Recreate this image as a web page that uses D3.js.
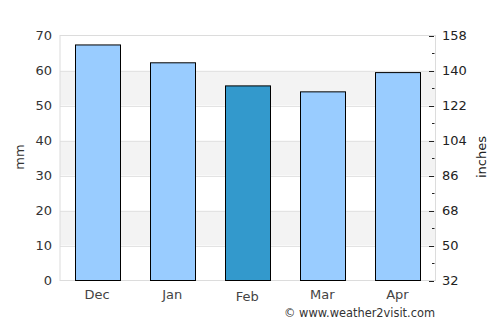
<!DOCTYPE html>
<html><head><meta charset="utf-8">
<script src="https://cdn.jsdelivr.net/npm/d3@7"></script>
<style>body{margin:0;background:#fff}svg{display:block;font-family:"DejaVu Sans",sans-serif}</style>
</head><body><svg id="c" width="500" height="325"></svg>
<script>
const months = ["Dec","Jan","Feb","Mar","Apr"];
const rainfall = [67.3, 62.2, 55.6, 53.9, 59.4];
const highlight = ["Feb"];
const leftTicks = [0,10,20,30,40,50,60,70];
const rightTicks = [32,50,68,86,104,122,140,158];

const svg = d3.select("#c");
const L=60, R=435.5, T=35.5, B=280.5;
const x = d3.scaleBand().domain(months).range([L,R]).paddingInner(0.4).paddingOuter(0.2);
const y = d3.scaleLinear().domain([0,70]).range([B,T]);
const y2 = d3.scaleLinear().domain([32,158]).range([B,T]);

// bands
for (let i=0;i<leftTicks.length-1;i++){
  if (i%2===1){
    svg.append("rect").attr("x",L).attr("width",R-L)
      .attr("y",y(leftTicks[i+1])).attr("height",y(leftTicks[i])-y(leftTicks[i+1]))
      .attr("fill","#f3f3f3");
  }
}
// grid
svg.append("g").selectAll("line").data(leftTicks.slice(1,-1)).join("line")
  .attr("x1",L).attr("x2",R).attr("y1",d=>Math.round(y(d))+0.5).attr("y2",d=>Math.round(y(d))+0.5)
  .attr("stroke","#e3e3e3");
// border
svg.append("rect").attr("x",L).attr("y",T).attr("width",R-L).attr("height",B-T)
  .attr("fill","none").attr("stroke","#dcdcdc");

// bars
svg.append("g").selectAll("rect").data(months).join("rect")
  .attr("x",d=>Math.round(x(d))+0.5).attr("width",Math.round(x.bandwidth()))
  .attr("y",(d,i)=>y(rainfall[i])).attr("height",(d,i)=>B-y(rainfall[i]))
  .attr("fill",d=>highlight.includes(d)?"#3399cc":"#99ccff")
  .attr("stroke","#000").attr("stroke-width",1);

// left axis labels
svg.append("g").selectAll("text").data(leftTicks).join("text")
  .attr("x",52).attr("y",d=>y(d)+4.5).attr("text-anchor","end")
  .attr("font-size",13).attr("fill","#333").text(d=>d);
// right axis
svg.append("g").selectAll("text").data(rightTicks).join("text")
  .attr("x",442).attr("y",d=>y2(d)+4.5).attr("text-anchor","start")
  .attr("font-size",13).attr("fill","#222").text(d=>d);
svg.append("g").selectAll("line").data(rightTicks).join("line")
  .attr("x1",429).attr("x2",434).attr("y1",d=>Math.round(y2(d))+0.5).attr("y2",d=>Math.round(y2(d))+0.5)
  .attr("stroke","#222");
const minor = rightTicks.slice(0,-1).map((d,i)=>(d+rightTicks[i+1])/2);
svg.append("g").selectAll("line").data(minor).join("line")
  .attr("x1",432).attr("x2",434.5).attr("y1",d=>Math.round(y2(d))+0.5).attr("y2",d=>Math.round(y2(d))+0.5)
  .attr("stroke","#222");

// x labels
svg.append("g").selectAll("text").data(months).join("text")
  .attr("x",d=>x(d)+x.bandwidth()/2 - 0.5).attr("y",(d,i)=>highlight.includes(d)?301:299).attr("text-anchor","middle")
  .attr("font-size",13).attr("fill","#444").text(d=>d);

// axis titles
svg.append("text").attr("transform","translate(24,157) rotate(-90)").attr("text-anchor","middle")
  .attr("font-size",13).attr("fill","#333").text("mm");
svg.append("text").attr("transform","translate(486,157) rotate(-90)").attr("text-anchor","middle")
  .attr("font-size",13).attr("fill","#222").text("inches");

svg.append("text").attr("x",435).attr("y",317).attr("text-anchor","end")
  .attr("font-size",11.4).attr("fill","#333").text("© www.weather2visit.com");
</script></body></html>
